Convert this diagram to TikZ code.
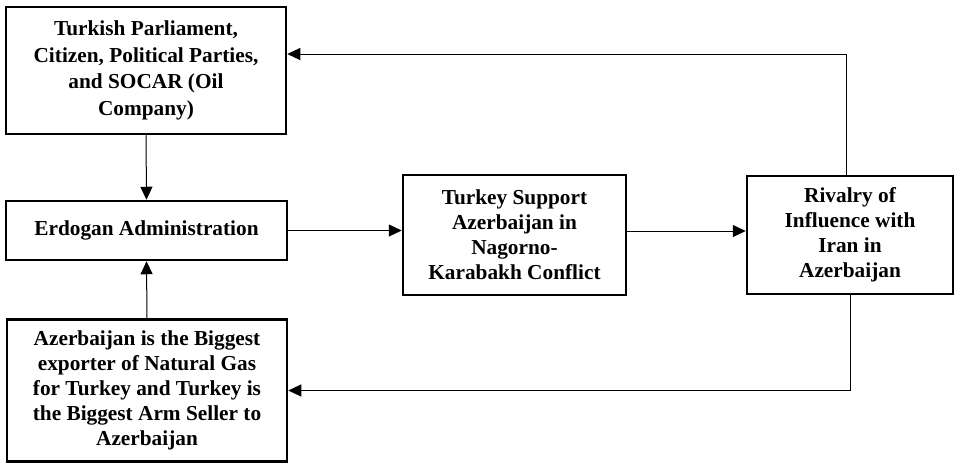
\documentclass[tikz,border=0pt]{standalone}
\usepackage{fontspec}
\setmainfont{Liberation Serif}
\usetikzlibrary{arrows.meta}
\begin{document}
\begin{tikzpicture}[x=1pt,y=-1pt,
  box/.style={draw, line width=2.5pt, rectangle, align=center, inner sep=0pt,
    font=\fontsize{21.3}{25}\selectfont\bfseries},
  conn/.style={line width=1pt, -{Triangle[length=13pt,width=12pt]}}]
\useasboundingbox (0,0) rectangle (958,463);
\node[box, minimum width=280pt, minimum height=127pt,
  font=\fontsize{21.3}{26.7}\selectfont\bfseries] (A) at (146,70.5)
  {Turkish Parliament,\\Citizen, Political Parties,\\and SOCAR (Oil\\Company)};
\node[box, minimum width=281pt, minimum height=59pt] (B) at (146.5,230.5)
  {Erdogan Administration};
\node[box, minimum width=280pt, minimum height=142pt] (C) at (147,390.5)
  {Azerbaijan is the Biggest\\exporter of Natural Gas\\for Turkey and Turkey is\\the Biggest Arm Seller to\\Azerbaijan};
\node[box, minimum width=223pt, minimum height=120pt] (D) at (514.5,235)
  {Turkey Support\\Azerbaijan in\\Nagorno-\\Karabakh Conflict};
\node[box, minimum width=206pt, minimum height=118pt] (E) at (850,235)
  {Rivalry of\\Influence with\\Iran in\\Azerbaijan};
\draw[conn] (A.south) -- (B.north);
\draw[conn] (C.north) -- (B.south);
\draw[conn] (B.east) -- (B.east -| D.west);
\draw[conn] ([yshift=4pt]D.east) -- ([yshift=4pt]D.east -| E.west);
\draw[conn] ([xshift=-4pt]E.north) |- ([yshift=16.5pt]A.east);
\draw[conn] (E.south) |- (C.east);
\end{tikzpicture}
\end{document}
